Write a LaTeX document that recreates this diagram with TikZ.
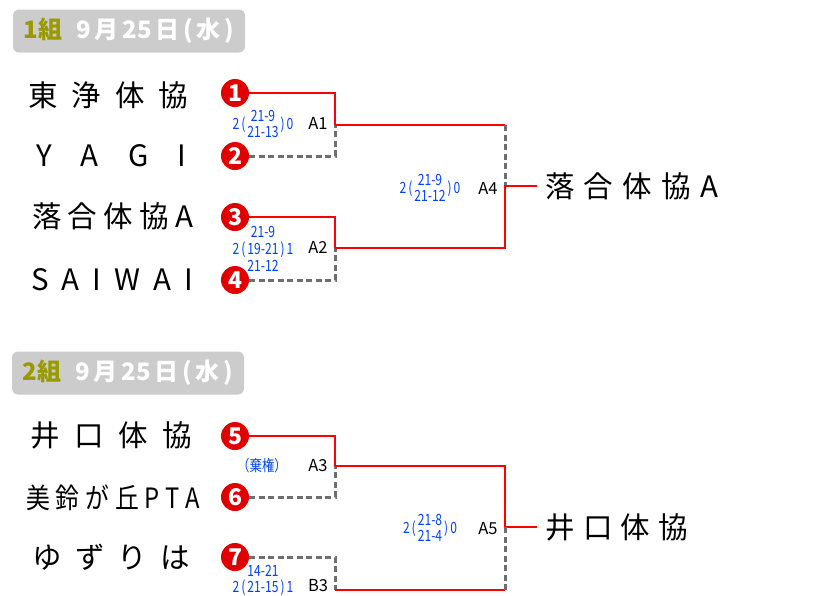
\documentclass[tikz,border=0pt]{standalone}
\usepackage{fontspec}
\setmainfont{Noto Sans CJK JP}
\usepackage{graphicx}
\usetikzlibrary{positioning, calc}
\definecolor{LineRed}{RGB}{255, 0, 0}
\definecolor{BallRed}{RGB}{225, 0, 0}
\definecolor{LoseGray}{RGB}{110, 110, 110}
\definecolor{ScoreBlue}{RGB}{0, 64, 255}
\definecolor{HeadGray}{RGB}{204, 204, 204}
\definecolor{GroupOlive}{RGB}{153, 153, 0}
\newcommand{\spreadto}[2]{\makebox[#1][s]{#2}}
\newcommand{\score}[4][c]{\scalebox{0.78}[1]{#2\,(\,\begin{tabular}[#1]{@{}c@{}}#3\end{tabular}\,)\,#4}}

\begin{document}
\begin{tikzpicture}[x=1pt, y=-1pt,
          hdr/.style={fill=HeadGray, rounded corners=6pt, minimum width=232pt,
                      minimum height=43pt, inner sep=0pt,
                      font=\fontsize{24}{26}\selectfont\bfseries},
          team/.style={anchor=west, inner sep=0pt, font=\fontsize{29.5}{31}\selectfont},
          ball/.style={circle, fill=BallRed, minimum size=28pt, inner sep=0pt,
                       text=white, font=\fontsize{23}{23}\selectfont\bfseries},
          win/.style={LineRed, line width=2.6pt},
          lose/.style={LoseGray, line width=3pt, dash pattern=on 6pt off 3.5pt},
          res/.style={text=ScoreBlue, inner sep=0pt, font=\fontsize{15.5}{15}\selectfont},
          game/.style={inner sep=0pt, font=\fontsize{16.5}{16}\selectfont}
        ]
        \useasboundingbox (0,0) rectangle (840,595);

        % group 1
        \node[hdr] (h1) at (129,31) {{\color{GroupOlive}1組}\hspace{14pt}%
              {\color{white}\spreadto{158pt}{9 月 25 日 ( 水 )}}};
        \node[team] (t1) at (28,95)  {\spreadto{160pt}{東 浄 体 協}};
        \node[team] (t2) at (36,156) {\spreadto{150pt}{Y A G I}};
        \node[team] (t3) at (32,216) {\spreadto{161pt}{落 合 体 協 A}};
        \node[team] (t4) at (31,280) {\spreadto{162pt}{S A I W A I}};
        \node[ball] (c1) at (235,93)  {1};
        \node[ball] (c2) at (235,156) {2};
        \node[ball] (c3) at (235,217) {3};
        \node[ball] (c4) at (235,280) {4};
        \coordinate (A1)  at (335,125);
        \coordinate (A2)  at (335,248);
        \coordinate (A4)  at (505,186);
        \coordinate (A1e) at (505,125);
        \node[team, inner xsep=8pt] (w1) at (537,186) {\spreadto{173pt}{落 合 体 協 A}};

        \draw[win]  (c1.east) -| (A1);
        \draw[lose] (c2.east) -| (A1);
        \draw[win]  (A1) -- (A1e);
        \draw[lose] (A1e) -- (A4);
        \draw[win]  (c3.east) -| (A2);
        \draw[lose] (c4.east) -| (A2);
        \draw[win]  (A2) -| (A4) -- (w1.west);

        \node[game] (g1) at (318,123) {A1};
        \node[game] (g2) at (318,247) {A2};
        \node[game] (g4) at (488,188) {A4};
        \node[res] (s1) at (263,126) {\score{2}{21-9\\21-13}{0}};
        \node[res, font=\fontsize{15.5}{17}\selectfont] (s2) at (263,251)
              {\score{2}{21-9\\19-21\\21-12}{1}};
        \node[res] (s4) at (430,190) {\score{2}{21-9\\21-12}{0}};

        % group 2
        \node[hdr] (h2) at (128,373) {{\color{GroupOlive}2組}\hspace{14pt}%
              {\color{white}\spreadto{158pt}{9 月 25 日 ( 水 )}}};
        \node[team] (t5) at (30,435) {\spreadto{162pt}{井 口 体 協}};
        \node[team, font=\fontsize{28}{30}\selectfont] (t6) at (26,498)
              {\scalebox{0.85}[1]{\spreadto{205pt}{美 鈴 が 丘 P T A}}};
        \node[team] (t7) at (32,557) {\spreadto{158pt}{ゆ ず り は}};
        \node[ball] (c5) at (235,436) {5};
        \node[ball] (c6) at (235,497) {6};
        \node[ball] (c7) at (235,557) {7};
        \coordinate (A3)  at (335,466);
        \coordinate (B3)  at (335,590);
        \coordinate (A5)  at (505,527);
        \coordinate (A5e) at (505,590);
        \node[team, inner xsep=8pt] (w2) at (537,527) {\spreadto{143pt}{井 口 体 協}};

        \draw[win]  (c5.east) -| (A3);
        \draw[lose] (c6.east) -| (A3);
        \draw[win]  (A3) -| (A5) -- (w2.west);
        \draw[lose] (c7.east) -| (B3);
        \draw[win]  (B3) -- (A5e);
        \draw[lose] (A5e) -- (A5);

        \node[game] (g3) at (318,466) {A3};
        \node[game] (g5) at (488,529) {A5};
        \node[game] (g6) at (318,586) {B3};
        \node[res] (s3) at (262,466) {\scalebox{0.8}[1]{（棄権）}};
        \node[res, anchor=base] (s6) at (263,592) {\score[b]{2}{14-21\\21-15}{1}};
        \node[res] (s5) at (430,530) {\score{2}{21-8\\21-4}{0}};
      \end{tikzpicture}
\end{document}
